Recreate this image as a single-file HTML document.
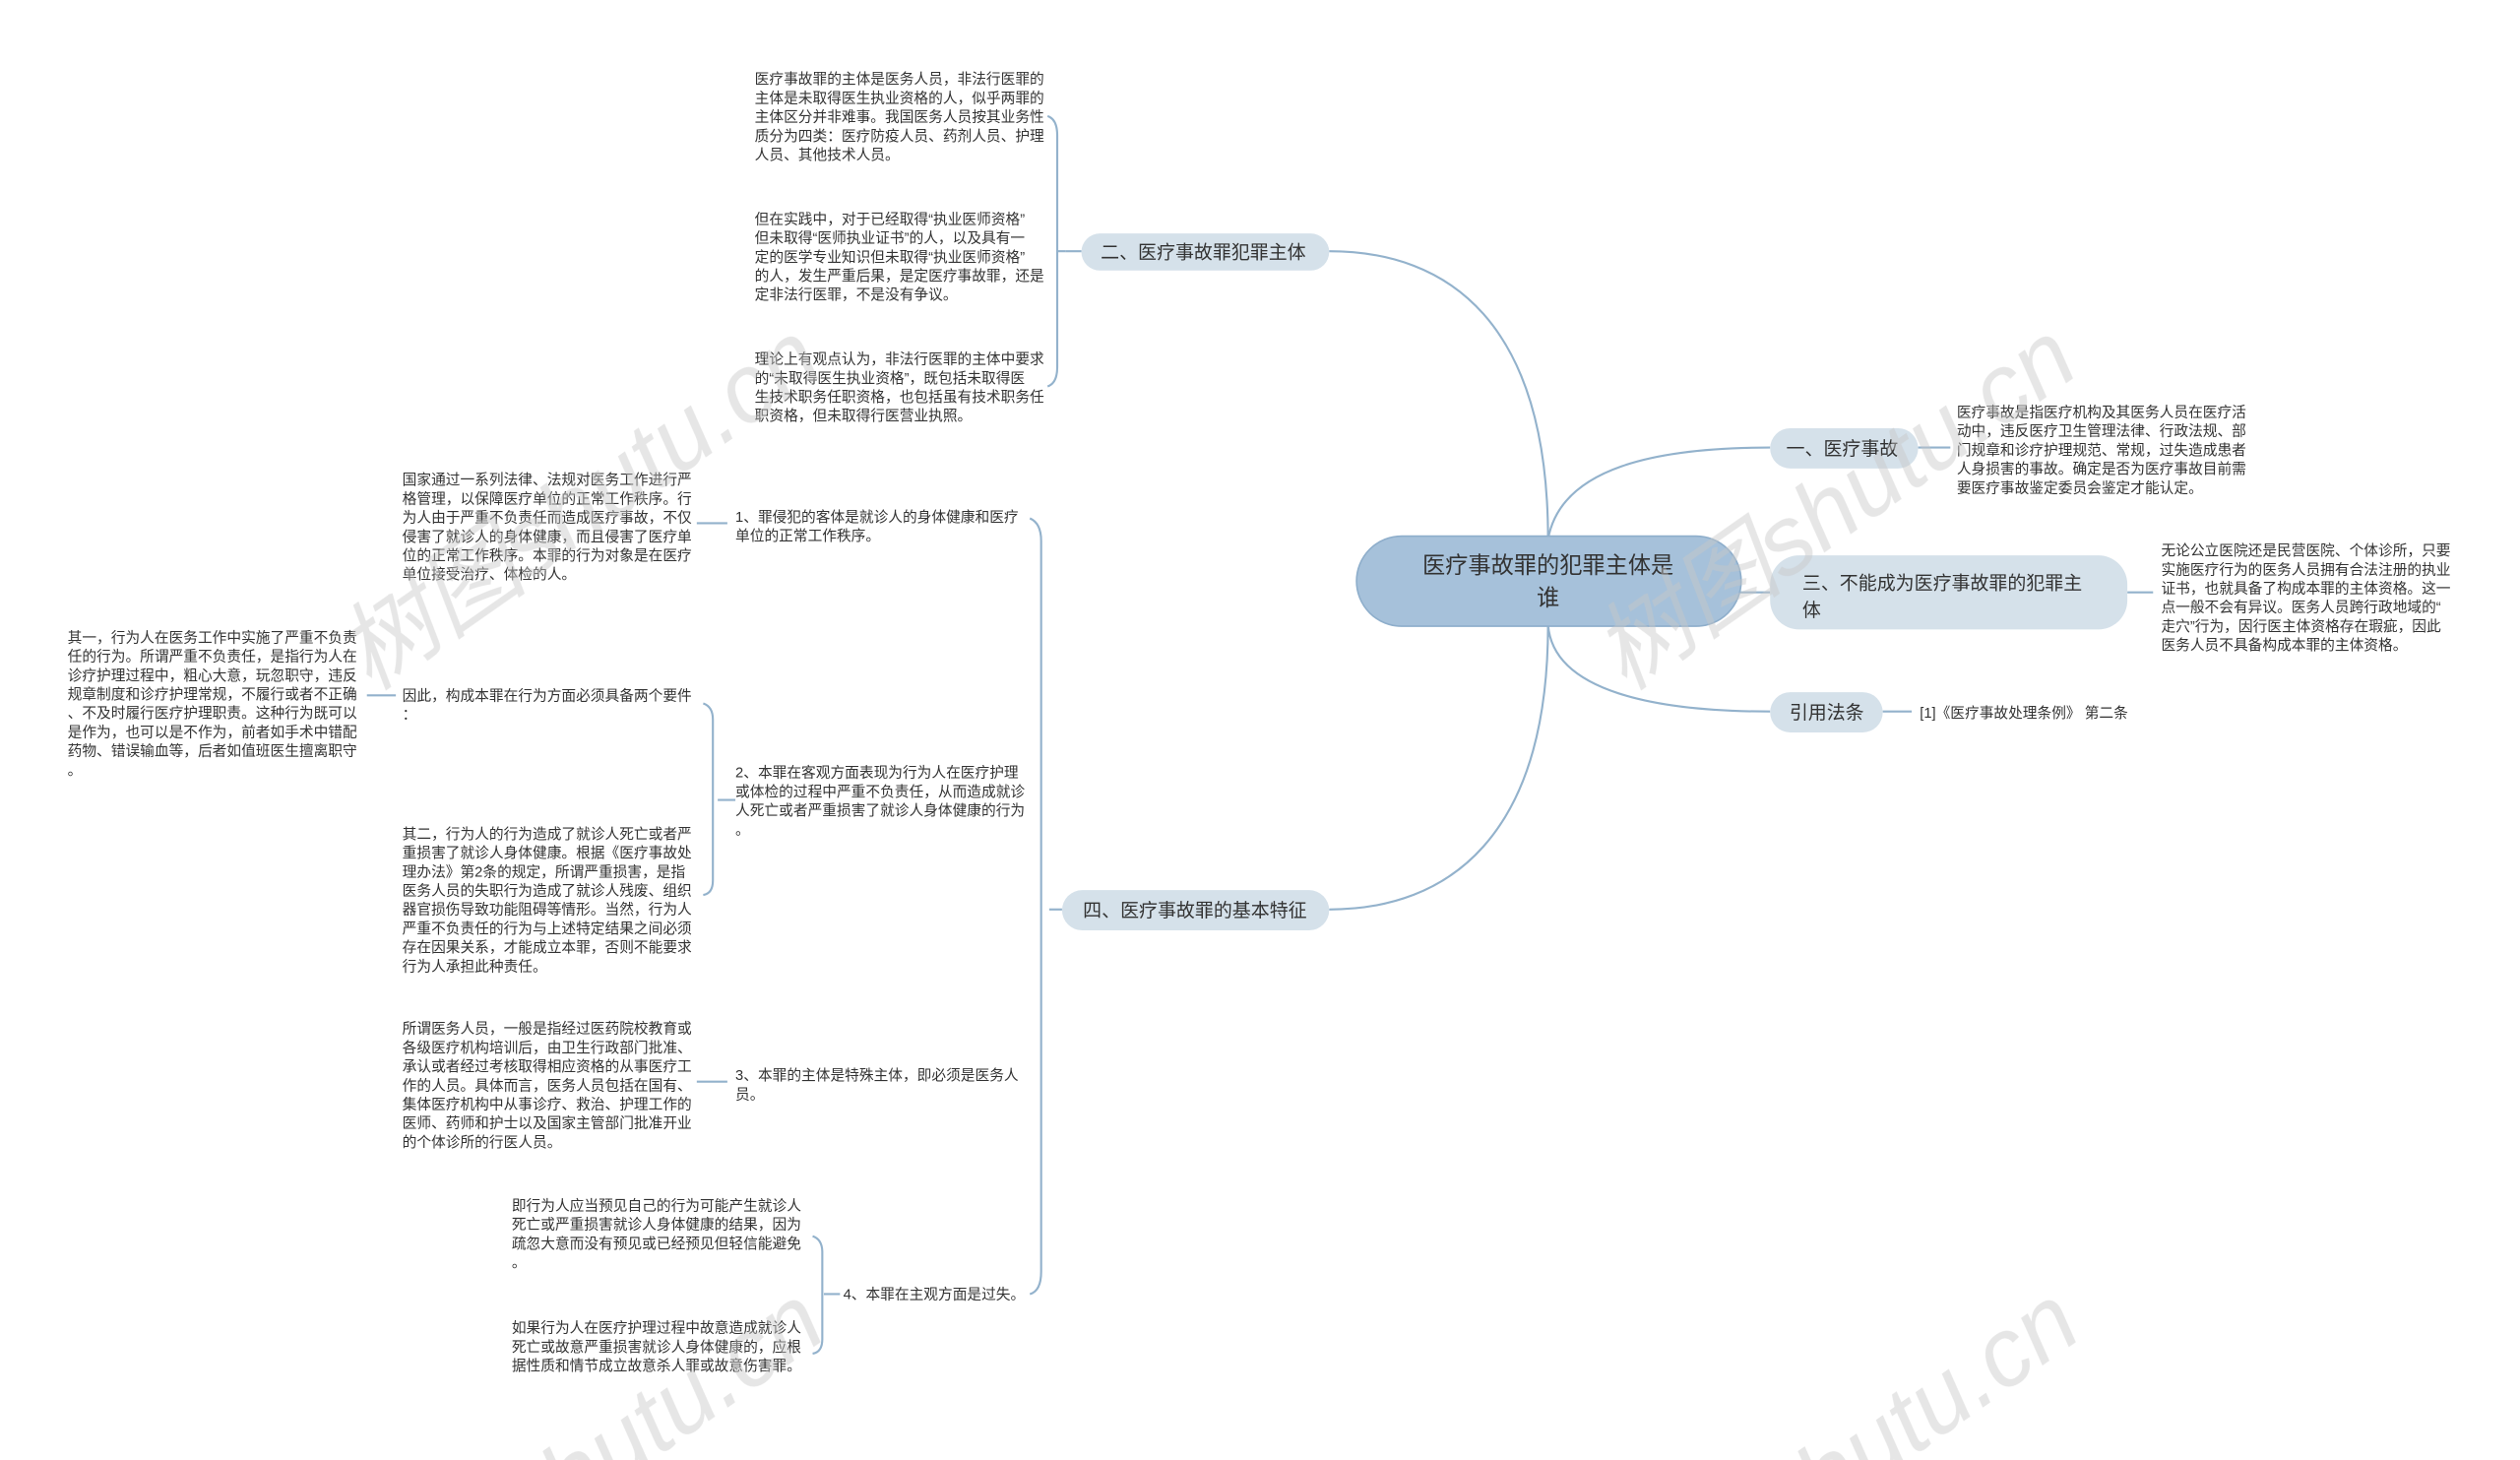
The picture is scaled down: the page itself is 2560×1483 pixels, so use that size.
<!DOCTYPE html>
<html><head><meta charset="utf-8"><style>
html,body{margin:0;padding:0;background:#fff;overflow:hidden;}
svg{display:block}
text{font-family:"Liberation Sans","Noto Sans CJK SC",sans-serif;fill:#333;}
.l{font-size:9px;}
.n{font-size:11.6px;fill:#333;}
</style></head><body>
<svg width="2560" height="1483" viewBox="0 0 1566 907" xmlns="http://www.w3.org/2000/svg">
<g fill="none" stroke="#93b2cc" stroke-width="1.3">
<path d="M962 335 C962 200 900 156 826 156"/>
<path d="M962 335 C970 290 1030 278 1100 278"/>
<path d="M1080 368 L1100 368"/>
<path d="M962 388 C965 430 1030 442 1100 442"/>
<path d="M962 388 C962 520 900 565 826 565"/>
<path d="M672 156 L662 156"/>
<path d="M651 72 Q657 74 657 84 L657 228 Q657 238 651 240"/>
<path d="M657 156 L662 156"/>
<path d="M1192 278 L1212 278"/>
<path d="M1322 368 L1338 368"/>
<path d="M1170 442 L1188 442"/>
<path d="M660 565 L652 565"/>
<path d="M640 322 Q647 325 647 336 L647 790 Q647 802 640 804"/>
<path d="M452 325 L433 325"/>
<path d="M446 497 L457 497"/>
<path d="M437 437 Q443 439 443 447 L443 547 Q443 555 437 556"/>
<path d="M246 432 L228 432"/>
<path d="M452 672 L433 672"/>
<path d="M512 804 L522 804"/>
<path d="M505 768 Q511 770 511 778 L511 832 Q511 840 505 841"/>
</g>
<rect x="843" y="333" width="239" height="56" rx="28" fill="#a6c1da" stroke="#8eaecb" stroke-width="1"/>
<text x="962" y="356" text-anchor="middle" style="font-size:14.2px">医疗事故罪的犯罪主体是</text>
<text x="962" y="376" text-anchor="middle" style="font-size:14.2px">谁</text>
<rect x="672" y="145" width="154" height="23" rx="11.5" fill="#d5e1ea"/>
<text class="n" x="684" y="160.5">二、医疗事故罪犯罪主体</text>
<rect x="1100" y="266" width="92" height="25" rx="12.5" fill="#d5e1ea"/>
<text class="n" x="1110" y="282.5">一、医疗事故</text>
<rect x="1100" y="345" width="222" height="46" rx="18" fill="#d5e1ea"/>
<text class="n" x="1120" y="366">三、不能成为医疗事故罪的犯罪主</text>
<text class="n" x="1120" y="383">体</text>
<rect x="1100" y="430" width="70" height="25" rx="12.5" fill="#d5e1ea"/>
<text class="n" x="1112" y="446.5">引用法条</text>
<rect x="660" y="553" width="166" height="25" rx="12.5" fill="#d5e1ea"/>
<text class="n" x="673" y="569.5">四、医疗事故罪的基本特征</text>

<text class="l"><tspan x="469" y="52">医疗事故罪的主体是医务人员，非法行医罪的</tspan><tspan x="469" dy="11.75">主体是未取得医生执业资格的人，似乎两罪的</tspan><tspan x="469" dy="11.75">主体区分并非难事。我国医务人员按其业务性</tspan><tspan x="469" dy="11.75">质分为四类：医疗防疫人员、药剂人员、护理</tspan><tspan x="469" dy="11.75">人员、其他技术人员。</tspan></text>
<text class="l"><tspan x="469" y="139">但在实践中，对于已经取得“执业医师资格”</tspan><tspan x="469" dy="11.75">但未取得“医师执业证书”的人，以及具有一</tspan><tspan x="469" dy="11.75">定的医学专业知识但未取得“执业医师资格”</tspan><tspan x="469" dy="11.75">的人，发生严重后果，是定医疗事故罪，还是</tspan><tspan x="469" dy="11.75">定非法行医罪，不是没有争议。</tspan></text>
<text class="l"><tspan x="469" y="226">理论上有观点认为，非法行医罪的主体中要求</tspan><tspan x="469" dy="11.75">的“未取得医生执业资格”，既包括未取得医</tspan><tspan x="469" dy="11.75">生技术职务任职资格，也包括虽有技术职务任</tspan><tspan x="469" dy="11.75">职资格，但未取得行医营业执照。</tspan></text>
<text class="l"><tspan x="1216" y="259">医疗事故是指医疗机构及其医务人员在医疗活</tspan><tspan x="1216" dy="11.75">动中，违反医疗卫生管理法律、行政法规、部</tspan><tspan x="1216" dy="11.75">门规章和诊疗护理规范、常规，过失造成患者</tspan><tspan x="1216" dy="11.75">人身损害的事故。确定是否为医疗事故目前需</tspan><tspan x="1216" dy="11.75">要医疗事故鉴定委员会鉴定才能认定。</tspan></text>
<text class="l"><tspan x="1343" y="345">无论公立医院还是民营医院、个体诊所，只要</tspan><tspan x="1343" dy="11.75">实施医疗行为的医务人员拥有合法注册的执业</tspan><tspan x="1343" dy="11.75">证书，也就具备了构成本罪的主体资格。这一</tspan><tspan x="1343" dy="11.75">点一般不会有异议。医务人员跨行政地域的“</tspan><tspan x="1343" dy="11.75">走穴”行为，因行医主体资格存在瑕疵，因此</tspan><tspan x="1343" dy="11.75">医务人员不具备构成本罪的主体资格。</tspan></text>
<text class="l" x="1193" y="446">[1]《医疗事故处理条例》 第二条</text>

<text class="l"><tspan x="457" y="324">1、罪侵犯的客体是就诊人的身体健康和医疗</tspan><tspan x="457" dy="11.75">单位的正常工作秩序。</tspan></text>
<text class="l"><tspan x="250" y="301">国家通过一系列法律、法规对医务工作进行严</tspan><tspan x="250" dy="11.75">格管理，以保障医疗单位的正常工作秩序。行</tspan><tspan x="250" dy="11.75">为人由于严重不负责任而造成医疗事故，不仅</tspan><tspan x="250" dy="11.75">侵害了就诊人的身体健康，而且侵害了医疗单</tspan><tspan x="250" dy="11.75">位的正常工作秩序。本罪的行为对象是在医疗</tspan><tspan x="250" dy="11.75">单位接受治疗、体检的人。</tspan></text>
<text class="l"><tspan x="457" y="483">2、本罪在客观方面表现为行为人在医疗护理</tspan><tspan x="457" dy="11.75">或体检的过程中严重不负责任，从而造成就诊</tspan><tspan x="457" dy="11.75">人死亡或者严重损害了就诊人身体健康的行为</tspan><tspan x="457" dy="11.75">。</tspan></text>
<text class="l"><tspan x="250" y="435">因此，构成本罪在行为方面必须具备两个要件</tspan><tspan x="250" dy="11.75">：</tspan></text>
<text class="l"><tspan x="42" y="399">其一，行为人在医务工作中实施了严重不负责</tspan><tspan x="42" dy="11.75">任的行为。所谓严重不负责任，是指行为人在</tspan><tspan x="42" dy="11.75">诊疗护理过程中，粗心大意，玩忽职守，违反</tspan><tspan x="42" dy="11.75">规章制度和诊疗护理常规，不履行或者不正确</tspan><tspan x="42" dy="11.75">、不及时履行医疗护理职责。这种行为既可以</tspan><tspan x="42" dy="11.75">是作为，也可以是不作为，前者如手术中错配</tspan><tspan x="42" dy="11.75">药物、错误输血等，后者如值班医生擅离职守</tspan><tspan x="42" dy="11.75">。</tspan></text>
<text class="l"><tspan x="250" y="521">其二，行为人的行为造成了就诊人死亡或者严</tspan><tspan x="250" dy="11.75">重损害了就诊人身体健康。根据《医疗事故处</tspan><tspan x="250" dy="11.75">理办法》第2条的规定，所谓严重损害，是指</tspan><tspan x="250" dy="11.75">医务人员的失职行为造成了就诊人残废、组织</tspan><tspan x="250" dy="11.75">器官损伤导致功能阻碍等情形。当然，行为人</tspan><tspan x="250" dy="11.75">严重不负责任的行为与上述特定结果之间必须</tspan><tspan x="250" dy="11.75">存在因果关系，才能成立本罪，否则不能要求</tspan><tspan x="250" dy="11.75">行为人承担此种责任。</tspan></text>
<text class="l"><tspan x="457" y="671">3、本罪的主体是特殊主体，即必须是医务人</tspan><tspan x="457" dy="11.75">员。</tspan></text>
<text class="l"><tspan x="250" y="642">所谓医务人员，一般是指经过医药院校教育或</tspan><tspan x="250" dy="11.75">各级医疗机构培训后，由卫生行政部门批准、</tspan><tspan x="250" dy="11.75">承认或者经过考核取得相应资格的从事医疗工</tspan><tspan x="250" dy="11.75">作的人员。具体而言，医务人员包括在国有、</tspan><tspan x="250" dy="11.75">集体医疗机构中从事诊疗、救治、护理工作的</tspan><tspan x="250" dy="11.75">医师、药师和护士以及国家主管部门批准开业</tspan><tspan x="250" dy="11.75">的个体诊所的行医人员。</tspan></text>
<text class="l" x="524" y="807">4、本罪在主观方面是过失。</text>
<text class="l"><tspan x="318" y="752">即行为人应当预见自己的行为可能产生就诊人</tspan><tspan x="318" dy="11.75">死亡或严重损害就诊人身体健康的结果，因为</tspan><tspan x="318" dy="11.75">疏忽大意而没有预见或已经预见但轻信能避免</tspan><tspan x="318" dy="11.75">。</tspan></text>
<text class="l"><tspan x="318" y="828">如果行为人在医疗护理过程中故意造成就诊人</tspan><tspan x="318" dy="11.75">死亡或故意严重损害就诊人身体健康的，应根</tspan><tspan x="318" dy="11.75">据性质和情节成立故意杀人罪或故意伤害罪。</tspan></text>

<g style="font-family:'Liberation Serif','Noto Serif CJK SC',serif;font-size:60px;font-style:italic" opacity="0.45">
<text x="230" y="430" transform="rotate(-35 230 430)" style="fill:#c8c8c8">树图shutu.cn</text>
<text x="1010" y="430" transform="rotate(-35 1010 430)" style="fill:#c8c8c8">树图shutu.cn</text>
<text x="330" y="960" transform="rotate(-35 330 960)" style="fill:#c8c8c8">shutu.cn</text>
<text x="1110" y="960" transform="rotate(-35 1110 960)" style="fill:#c8c8c8">shutu.cn</text>
</g>
</svg>
</body></html>
